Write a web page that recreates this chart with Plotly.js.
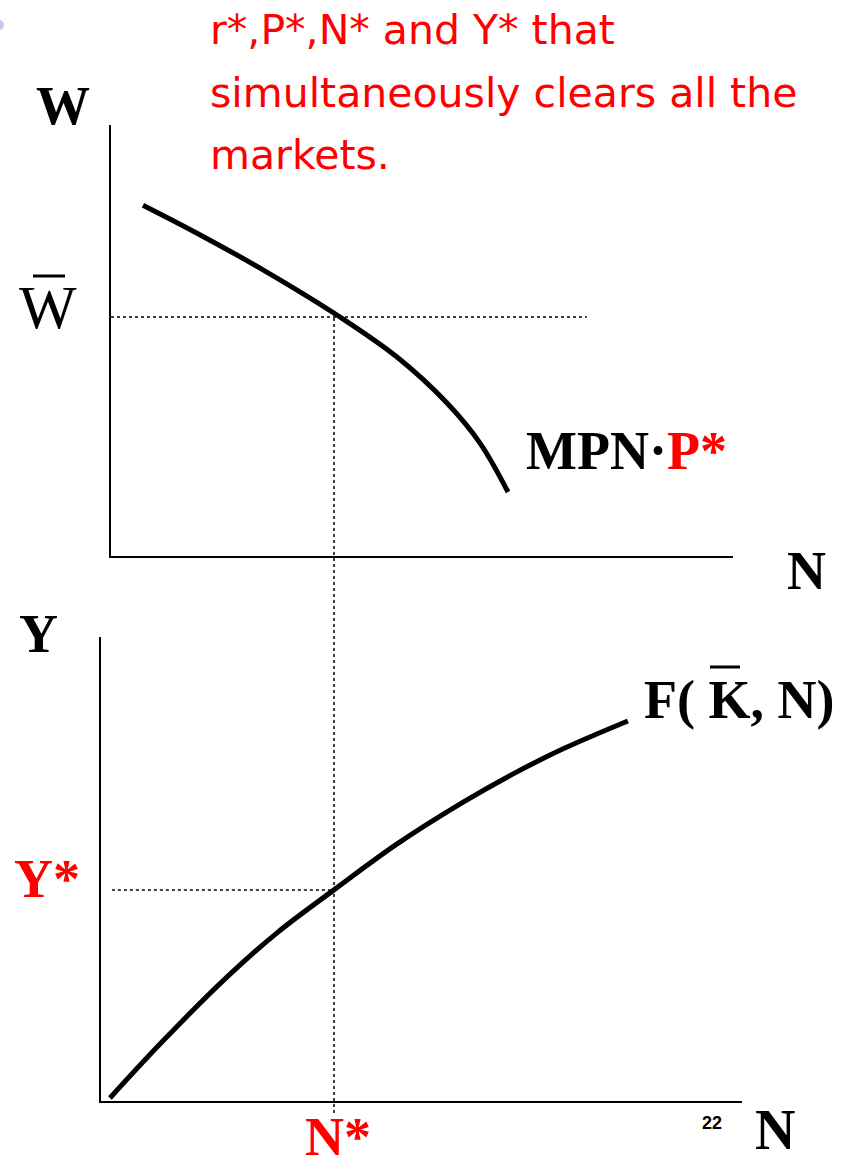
<!DOCTYPE html>
<html>
<head>
<meta charset="utf-8">
<script src="https://cdn.plot.ly/plotly-3.0.1.min.js"></script>
<style>html,body{margin:0;padding:0;background:#fff;} #chart{width:846px;height:1159px;}</style>
</head>
<body>
<div id="chart"></div>
<script>
// ---- data (chart units) ----
const mpnN = [0.655, 1.498, 2.527, 3.729, 4.618, 5.398, 5.913, 6.35];
const mpnW = [8.14, 7.49, 6.64, 5.545, 4.617, 3.55, 2.62, 1.485];
const prodN = [0.14, 0.95, 1.98, 2.76, 3.635, 4.62, 5.65, 6.43, 7.21, 8.22];
const prodY = [0.065, 1.27, 2.69, 3.64, 4.55, 5.54, 6.44, 7.05, 7.59, 8.19];
const nStar = 3.635;
const wBar = 5.545;
const yStar = 4.55;
const titleLines = ["r*,P*,N* and Y* that", "simultaneously clears all the", "markets."];

// ---- layout geometry ----
const W = 846, H = 1159;
const px = x => x / W;
const py = y => 1 - y / H;
const topX = {domain: [px(111), px(733)], range: [0.156, 9.86]};
const topY = {domain: [py(556), py(125)], range: [0, 10]};
const botX = {domain: [px(101), px(742)], range: [0, 10]};
const botY = {domain: [py(1101), py(637)], range: [0, 10]};
const toPaper = (ax, v) => ax.domain[0] + (v - ax.range[0]) / (ax.range[1] - ax.range[0]) * (ax.domain[1] - ax.domain[0]);

const serif = "Liberation Serif, Times New Roman, serif";
const sans = "DejaVu Sans, Open Sans, sans-serif";

const axBase = {showgrid: false, zeroline: false, showticklabels: false, ticks: '', showline: true,
  linecolor: '#000', linewidth: 2, fixedrange: true};

const traces = [
  {x: mpnN, y: mpnW, xaxis: 'x', yaxis: 'y', mode: 'lines', line: {color: '#000', width: 5, shape: 'spline', smoothing: 1}, hoverinfo: 'skip'},
  {x: [topX.range[0], 7.58], y: [wBar, wBar], xaxis: 'x', yaxis: 'y', mode: 'lines', line: {color: '#000', width: 1.5, dash: 'dot'}, hoverinfo: 'skip'},
  {x: prodN, y: prodY, xaxis: 'x2', yaxis: 'y2', mode: 'lines', line: {color: '#000', width: 5, shape: 'spline', smoothing: 1}, hoverinfo: 'skip', cliponaxis: false},
  {x: [0.17, nStar], y: [yStar, yStar], xaxis: 'x2', yaxis: 'y2', mode: 'lines', line: {color: '#000', width: 1.5, dash: 'dot'}, hoverinfo: 'skip'}
];

const ann = (text, x, y, size, color, xa, ya, family) => ({
  text: text, x: px(x), y: py(y), xref: 'paper', yref: 'paper', showarrow: false,
  xanchor: xa || 'center', yanchor: ya || 'middle',
  font: {family: family || serif, size: size, color: color || '#000'}
});

const annotations = [
  ann(titleLines[0], 208, 30, 41, '#ff0000', 'left', 'middle', sans),
  ann(titleLines[1], 208, 93, 41, '#ff0000', 'left', 'middle', sans),
  ann(titleLines[2], 208, 155, 41, '#ff0000', 'left', 'middle', sans),
  ann('<b>W</b>', 63, 106, 54),
  ann('W', 48, 308, 61),
  ann('<b>MPN·<span style="color:#ff0000">P*</span></b>', 524, 451, 54, '#000', 'left'),
  ann('<b>N</b>', 806, 571, 54),
  ann('<b>Y</b>', 38, 634, 54),
  ann('<b>F( K, N)</b>', 642, 700, 54, '#000', 'left'),
  ann('<b>Y*</b>', 47, 879, 54, '#ff0000'),
  ann('<b>N*</b>', 338, 1137, 54, '#ff0000'),
  ann('<b>22</b>', 712, 1123, 18, '#000', 'center', 'middle', 'Liberation Sans Narrow, Liberation Sans, Arial, sans-serif'),
  ann('<b>N</b>', 775, 1130, 56)
];

const shapes = [
  {type: 'line', xref: 'x2', yref: 'paper', x0: nStar, x1: nStar,
   y0: toPaper(botY, -0.26), y1: toPaper(topY, wBar), line: {color: '#000', width: 1.5, dash: 'dot'}},
  {type: 'line', xref: 'paper', yref: 'paper', x0: px(33), x1: px(65), y0: py(276), y1: py(276), line: {color: '#000', width: 3}},
  {type: 'line', xref: 'paper', yref: 'paper', x0: px(710), x1: px(740), y0: py(667), y1: py(667), line: {color: '#000', width: 3}},
  {type: 'circle', xref: 'paper', yref: 'paper', x0: px(-6), x1: px(4), y0: py(30), y1: py(20), line: {width: 0}, fillcolor: '#c8c8ec'}
];

const layout = {
  width: W, height: H, margin: {l: 0, r: 0, t: 0, b: 0},
  paper_bgcolor: '#fff', plot_bgcolor: 'rgba(0,0,0,0)', showlegend: false,
  xaxis: Object.assign({}, axBase, topX, {anchor: 'y'}),
  yaxis: Object.assign({}, axBase, topY, {anchor: 'x'}),
  xaxis2: Object.assign({}, axBase, botX, {anchor: 'y2'}),
  yaxis2: Object.assign({}, axBase, botY, {anchor: 'x2'}),
  annotations: annotations, shapes: shapes
};

Plotly.newPlot('chart', traces, layout, {staticPlot: true, displayModeBar: false});
</script>
</body>
</html>
